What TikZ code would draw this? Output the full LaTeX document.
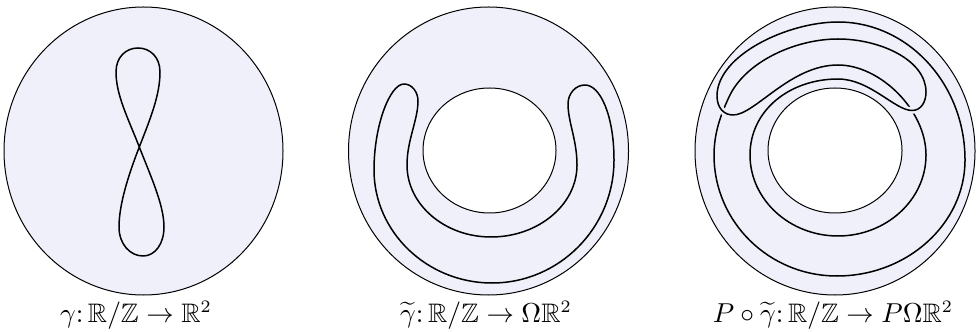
\documentclass[tikz,border=0pt]{standalone}
\usepackage{amssymb}
\definecolor{lav}{RGB}{240,240,250}
\tikzset{
  disk/.style={draw=black, line width=0.4pt, fill=lav},
  curve/.style={draw=black, line width=0.6pt, line join=round},
  gapline/.style={draw=lav, line width=2.6pt},
  lbl/.style={anchor=base, inner sep=0pt, font=\fontsize{10.7}{13}\selectfont}
}
\begin{document}
\begin{tikzpicture}[x=0.4pt,y=-0.4pt]
\useasboundingbox (0,0) rectangle (978,332);
% ---------- left: figure eight ----------
\path[disk] (143.5,151) ellipse [x radius=139.5, y radius=144];
\coordinate (X) at (139.3,147);
\draw[curve] (X) .. controls (150.6,118) and (160,95) .. (160,72)
  .. controls (160,57) and (150,48) .. (138,48)
  .. controls (126,48) and (116,57) .. (116,72)
  .. controls (116,95) and (128,118) .. (X)
  .. controls (150.6,176) and (164,205) .. (164,227)
  .. controls (164,244) and (155,256) .. (143,256)
  .. controls (130,256) and (119,244) .. (119,227)
  .. controls (119,205) and (128,176) .. (X) -- cycle;
\node[lbl] (l1) at (136,322) {$\gamma\colon \mathbb{R}/\mathbb{Z}\to\mathbb{R}^2$};
% ---------- middle: U curve in annulus ----------
\path[disk, even odd rule] (488.5,151) ellipse [x radius=140, y radius=144]
      (489.5,150.5) ellipse [x radius=66.5, y radius=62.5];
\draw[curve] (404,84) .. controls (412,84) and (418,92) .. (418,101)
  .. controls (418,120) and (407,140) .. (407,165)
  .. controls (407,205) and (445,237) .. (491,237)
  .. controls (538,237) and (577,205) .. (577,165)
  .. controls (577,140) and (568,122) .. (568,104)
  .. controls (568,93) and (576,85) .. (585,85)
  .. controls (600,85) and (614,115) .. (614,160)
  .. controls (614,228) and (559,283) .. (492,283)
  .. controls (427,283) and (374,232) .. (374,170)
  .. controls (374,125) and (390,84) .. (404,84) -- cycle;
\node[lbl] (l2) at (486,322) {$\widetilde{\gamma}\colon \mathbb{R}/\mathbb{Z}\to\Omega\mathbb{R}^2$};
% ---------- right: P o gamma tilde ----------
\path[disk, even odd rule] (835,151) ellipse [x radius=140, y radius=144]
      (835,150.5) ellipse [x radius=67, y radius=62.5];
\draw[curve] (838,22) .. controls (788,22) and (717,55) .. (717,96)
  .. controls (717,108) and (724,115) .. (733,115)
  .. controls (755,115) and (790,65) .. (838,65)
  .. controls (880,65) and (926,110) .. (926,155)
  .. controls (926,200) and (886,236) .. (838,236)
  .. controls (790,236) and (750,200) .. (750,155)
  .. controls (750,110) and (790,79) .. (838,79)
  .. controls (870,79) and (895,110.5) .. (912,110.5)
  .. controls (921,110.5) and (926,102) .. (926,92)
  .. controls (926,60) and (880,39) .. (838,39)
  .. controls (795,39) and (745,62) .. (729,97)
  .. controls (723,110) and (714,130) .. (714,155)
  .. controls (714,222) and (769,276) .. (837,276)
  .. controls (907,276) and (965,224) .. (965,160)
  .. controls (965,84) and (908,22) .. (838,22) -- cycle;
% over-strands at the two crossings
\draw[curve, preaction={gapline}] (717,96) .. controls (717,108) and (724,115) .. (733,115);
\draw[curve, preaction={gapline}] (838,79) .. controls (870,79) and (895,110.5) .. (912,110.5)
  .. controls (921,110.5) and (926,102) .. (926,92);
\node[lbl] (l3) at (833,322) {$P\circ\widetilde{\gamma}\colon \mathbb{R}/\mathbb{Z}\to P\Omega\mathbb{R}^2$};
\end{tikzpicture}
\end{document}
